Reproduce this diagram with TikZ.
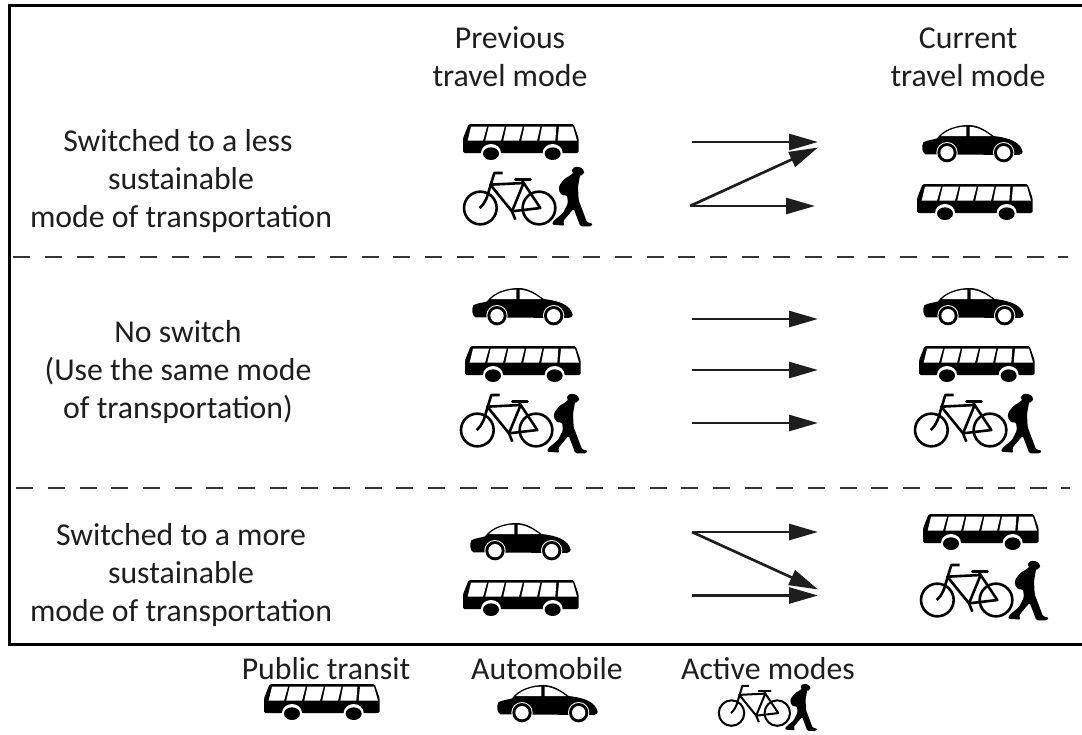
\documentclass[tikz,border=0pt]{standalone}
\usepackage{fontspec}
\setmainfont{Carlito}
\usetikzlibrary{arrows.meta}
\definecolor{ink}{HTML}{1E1E1E}
\tikzset{
  lbl/.style={font=\fontsize{31.8}{38}\selectfont,align=center,text=ink,inner sep=0pt},
  flow/.style={draw=ink,line width=2.7pt,-{Triangle[length=29pt,width=16pt,color=ink]}},
  sep/.style={draw=ink!90,line width=2.8pt,dash pattern=on 17pt off 14.67pt},
}
\newcommand{\busicon}[3]{\begin{scope}[shift={(#1,#2)},x=#3*0.3333pt,y=-#3*0.3333pt]
  \fill[black,rounded corners=#3*1.5pt] (17,0)--(332,0)--(347,43)--(347,87)--(0,87)--(0,43)--cycle;
  \fill[white] (24,8)--(72,8)--(60,50)--(14,50)--cycle;
  \fill[white] (77,8)--(125,8)--(114,50)--(67,50)--cycle;
  \fill[white] (130,8)--(179,8)--(168,50)--(121,50)--cycle;
  \fill[white] (184,8)--(232,8)--(222,50)--(175,50)--cycle;
  \fill[white] (237,8)--(280,8)--(277,50)--(229,50)--cycle;
  \fill[white] (288,8)--(330,8)--(342,50)--(284,50)--cycle;
  \fill[white] (84,87) ellipse (30 and 27); \fill[white] (269,87) ellipse (30 and 27);
  \fill[black] (84,89) ellipse (24 and 19); \fill[black] (269,89) ellipse (24 and 19);
\end{scope}}
\newcommand{\caricon}[3]{\begin{scope}[shift={(#1,#2)},x=#3*0.3333pt,y=-#3*0.3333pt]
  \fill[black] (10,88) .. controls (0,82) and (-2,65) .. (4,52) .. controls (15,45) and (35,44) .. (45,40)
    .. controls (65,12) and (105,0) .. (140,0) .. controls (170,0) and (195,18) .. (215,33)
    .. controls (260,38) and (295,50) .. (302,80) .. controls (302,85) and (298,88) .. (290,90) -- cycle;
  \fill[white] (57,33) .. controls (75,15) and (105,5) .. (133,5) -- (133,33) -- cycle;
  \fill[white] (143,5) .. controls (170,7) and (190,20) .. (208,33) -- (143,33) -- cycle;
  \foreach \wx in {75,245}{
    \fill[white] (\wx,83) circle (32);
    \fill[black] (\wx,83) circle (29);
    \fill[white] (\wx,83) circle (20);
  }
\end{scope}}
\newcommand{\bikeicon}[3]{\begin{scope}[shift={(#1,#2)},x=#3*0.3333pt,y=-#3*0.3333pt]
  \begin{scope}[draw=black,line width=#3*2.6pt,line join=round]
  \draw (52,108) circle (49);
  \draw (228,108) circle (49);
  \draw[line width=#3*2.6pt] (119,3) -- (94,3) -- (82,42) .. controls (72,75) and (70,90) .. (50,108);
  \draw[line width=#3*2.6pt] (82,38) -- (182,33) -- (147,118) -- cycle;
  \draw[line width=#3*2.6pt] (182,33) -- (232,108) -- (147,118);
  \draw[line width=#3*2.6pt] (177,23) -- (182,33);
  \draw[line width=#3*2.6pt] (147,118) -- (157,143);
  \draw[line width=#3*3pt,line cap=round] (157,23) -- (202,23);
  \end{scope}
\end{scope}}
\newcommand{\walkicon}[3]{\begin{scope}[shift={(#1,#2)},x=#3*0.3333pt,y=-#3*0.3333pt]
  \fill[black,rotate around={-12:(78,13)}] (78,13) ellipse (19 and 13);
  \fill[black,rounded corners=#3*1.5pt] (85,20) -- (78,60) -- (80,100) -- (84,110) -- (105,166) -- (123,170)
    -- (118,178) -- (85,178) -- (65,125) -- (33,163) -- (38,176) -- (0,173) -- (3,163) -- (33,138)
    -- (48,108) -- (45,85) -- (30,85) -- (20,70) -- (22,55) -- (38,35) -- (55,25) -- (70,12) -- cycle;
\end{scope}}
\begin{document}
\begin{tikzpicture}[x=1pt,y=-1pt]
\useasboundingbox (0,0) rectangle (1082,734);
\draw[black,line width=3pt] (1090,5) -- (9.5,5) -- (9.5,644) -- (1090,644);
\coordinate (d1a) at (13.3,257); \coordinate (d1b) at (1068,257);
\coordinate (d2a) at (16.3,488); \coordinate (d2b) at (1070,488);
\draw[sep] (d1a) -- (d1b);
\draw[sep] (d2a) -- (d2b);

\node[lbl] (prev) at (510,57) {Previous\\travel mode};
\node[lbl] (curr) at (968,57) {Current\\travel mode};
\node[lbl] (less) at (181,181) {Switched to a less\hspace*{6pt}\\sustainable\\mode of transportation};
\node[lbl] (same) at (178,372) {No switch\\(Use the same mode\\of transportation)};
\node[lbl] (more) at (181,575) {Switched to a more\\sustainable\\mode of transportation};
\node[lbl] (legbus) at (326,669) {Public transit};
\node[lbl] (legcar) at (547,669) {Automobile};
\node[lbl] (legact) at (768,669) {Active modes};

% row 1
\busicon{463}{124}{1}
\bikeicon{463}{172}{1}
\walkicon{552}{167}{1}
\caricon{922}{125}{1}
\busicon{917}{184}{1}
% row 2
\caricon{472}{288}{1}
\busicon{465}{346}{1}
\bikeicon{460}{394}{1}
\walkicon{547}{394}{1}
\caricon{923}{288}{1}
\busicon{919}{346}{1}
\bikeicon{914}{394}{1}
\walkicon{1001}{394}{1}
% row 3
\caricon{470}{523}{1}
\busicon{463}{580}{1}
\busicon{923}{514}{1}
\bikeicon{920}{564}{1}
\walkicon{1008}{561}{1}
% legend
\busicon{264}{684}{1}
\caricon{497}{685}{1}
\bikeicon{718}{685}{0.78}
\walkicon{785}{684}{0.79}

\coordinate (a1s) at (692,142); \coordinate (a1e) at (818,142);
\coordinate (a2s) at (690,206); \coordinate (a2e) at (818,147.5);
\coordinate (a3e) at (815,206);
\coordinate (b1s) at (692,319); \coordinate (b1e) at (818,319);
\coordinate (b2s) at (692,370); \coordinate (b2e) at (818,370);
\coordinate (b3s) at (692,423); \coordinate (b3e) at (818,423);
\coordinate (c1s) at (692,532); \coordinate (c1e) at (818,532);
\coordinate (c2e) at (818,589.5);
\coordinate (c3s) at (692,595.5); \coordinate (c3e) at (818,595.5);
\draw[flow] (a1s) -- (a1e);
\draw[flow] (a2s) -- (a2e);
\draw[flow] (a2s) -- (a3e);
\draw[flow] (b1s) -- (b1e);
\draw[flow] (b2s) -- (b2e);
\draw[flow] (b3s) -- (b3e);
\draw[flow] (c1s) -- (c1e);
\draw[flow] (c1s) -- (c2e);
\draw[flow] (c3s) -- (c3e);
\end{tikzpicture}
\end{document}
